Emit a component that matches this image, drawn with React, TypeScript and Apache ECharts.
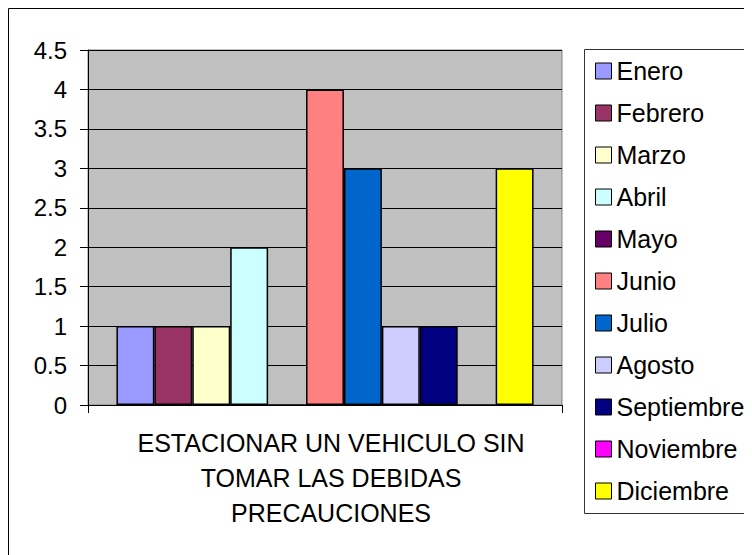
import React, { useEffect, useRef } from "react";
import * as echarts from "echarts";

const categories = ["ESTACIONAR UN VEHICULO SIN\nTOMAR LAS DEBIDAS\nPRECAUCIONES"];
const months = ["Enero", "Febrero", "Marzo", "Abril", "Mayo", "Junio", "Julio", "Agosto", "Septiembre", "Noviembre", "Diciembre"];
const values = [1, 1, 1, 2, 0, 4, 3, 1, 1, 0, 3];
const colors = ["#9999FF", "#993366", "#FFFFCC", "#CCFFFF", "#660066", "#FF8080", "#0066CC", "#CCCCFF", "#000080", "#FF00FF", "#FFFF00"];

const FONT = "'Liberation Sans', Arial, sans-serif";

export default function App() {
  const ref = useRef<HTMLDivElement>(null);
  useEffect(() => {
    if (!ref.current) return;
    const chart = echarts.init(ref.current, null, { renderer: "svg" });
    chart.setOption({
      animation: false,
      textStyle: { fontFamily: FONT, color: "#000" },
      graphic: [
        { type: "rect", shape: { x: 0.5, y: 0.5, width: 900, height: 900 }, style: { fill: "none", stroke: "#000", lineWidth: 1 }, z: -10 },
        { type: "rect", shape: { x: 576.5, y: 41.5, width: 400, height: 464 }, style: { fill: "none", stroke: "#333", lineWidth: 1 }, z: -10 },
      ],
      grid: {
        left: 80, top: 42, right: 190, bottom: 150,
        show: true, backgroundColor: "#C0C0C0", borderColor: "#808080", borderWidth: 1,
      },
      legend: {
        orient: "vertical",
        left: 576, top: 41,
        padding: [9, 10, 9, 11],
        itemWidth: 16, itemHeight: 16, itemGap: 16,
        icon: "rect",
        itemStyle: { borderColor: "#000", borderWidth: 1 },
        textStyle: { fontSize: 25, lineHeight: 26, color: "#000", fontFamily: FONT },
        data: months,
      },
      xAxis: {
        type: "category",
        data: categories,
        axisLine: { lineStyle: { color: "#000", width: 1 } },
        axisTick: { show: true, length: 8, lineStyle: { color: "#000" } },
        axisLabel: { fontSize: 25, lineHeight: 35, color: "#000", margin: 20, fontFamily: FONT, interval: 0, padding: [0, 0, 0, 12] },
      },
      yAxis: {
        type: "value",
        min: 0, max: 4.5, interval: 0.5,
        axisLine: { show: true, lineStyle: { color: "#000", width: 1 } },
        axisTick: { show: true, length: 8, lineStyle: { color: "#000" } },
        axisLabel: { fontSize: 24, color: "#000", margin: 21, fontFamily: FONT },
        splitLine: { show: true, lineStyle: { color: "#000", width: 1 } },
      },
      series: months.map((m, i) => ({
        name: m,
        type: "bar",
        data: [values[i]],
        barGap: "0%",
        barCategoryGap: "12%",
        itemStyle: { color: colors[i], borderColor: "#000", borderWidth: 1.5 },
      })),
    });
    return () => chart.dispose();
  }, []);
  return <div ref={ref} style={{ width: 744, height: 547 }} />;
}
